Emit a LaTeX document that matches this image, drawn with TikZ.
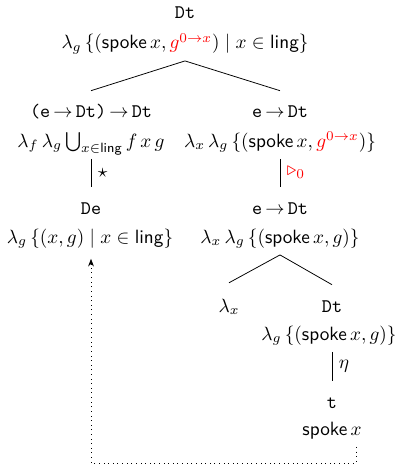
\documentclass[tikz,border=0pt]{standalone}
\usepackage{amsmath, amssymb}
\usepackage{tikz}
\usetikzlibrary{arrows.meta}
\newcommand{\spk}{\textsf{spoke}}
\newcommand{\lng}{\textsf{ling}}

\begin{document}
\begin{tikzpicture}[
    x=0.52pt, y=-0.52pt,
    ty/.style={font=\ttfamily, anchor=base, text height=7pt, text depth=0pt, inner ysep=7pt},
    tm/.style={anchor=base, text height=8pt, text depth=3pt, inner ysep=3pt},
  ]
  \useasboundingbox (0,0) rectangle (400,464);

  % Wurzel
  \node[ty] (rootT) at (185,19) {Dt};
  \node[tm] (root) at (185,49) {$\lambda_g\,\{(\spk\,x, \textcolor{red}{g^{0\to x}}) \mid x \in \lng\}$};

  % linker Ast
  \node[ty] (lT) at (91,118) {(e\,$\to$\,Dt)\,$\to$\,Dt};
  \node[tm] (l) at (91,147) {$\lambda_f\,\lambda_g \bigcup_{x\in\lng} f\,x\,g$};
  \node[ty] (lDT) at (91,214) {De};
  \node[tm] (lD) at (90,243) {$\lambda_g\,\{(x,g) \mid x \in \lng\}$};

  % rechter Ast
  \node[ty] (rT) at (280,118) {e\,$\to$\,Dt};
  \node[tm] (r) at (280,147) {$\lambda_x\,\lambda_g\,\{(\spk\,x, \textcolor{red}{g^{0\to x}})\}$};
  \node[ty] (rDT) at (280,214) {e\,$\to$\,Dt};
  \node[tm] (rD) at (280,243) {$\lambda_x\,\lambda_g\,\{(\spk\,x, g)\}$};

  \node[tm, text depth=0pt, inner ysep=7pt] (lx) at (229,312) {$\lambda_x$};
  \node[ty] (dtT) at (332,312) {Dt};
  \node[tm] (dt) at (329,340) {$\lambda_g\,\{(\spk\,x, g)\}$};
  \node[ty] (tT) at (332,408) {t};
  \node[tm] (spx) at (332,435) {$\spk\,x$};

  \draw (root.south) -- (lT.north);
  \draw (root.south) -- (rT.north);
  \draw (l.south) -- node[right] {$\star$} (lDT.north);
  \draw (r.south) -- node[right, red] {$\triangleright_0$} (rDT.north);
  \draw (rD.south) -- (lx.north);
  \draw (rD.south) -- (dtT.north);
  \draw (tT.north |- dt.south) -- node[right] {$\eta$} (tT.north);

  % Rueckverweis
  \draw[dotted, -{Stealth[length=4pt]}] ([xshift=12.5pt]spx.south) -- ++(0,16) -| ([yshift=-2pt]lD.south -| lDT);
\end{tikzpicture}
\end{document}
